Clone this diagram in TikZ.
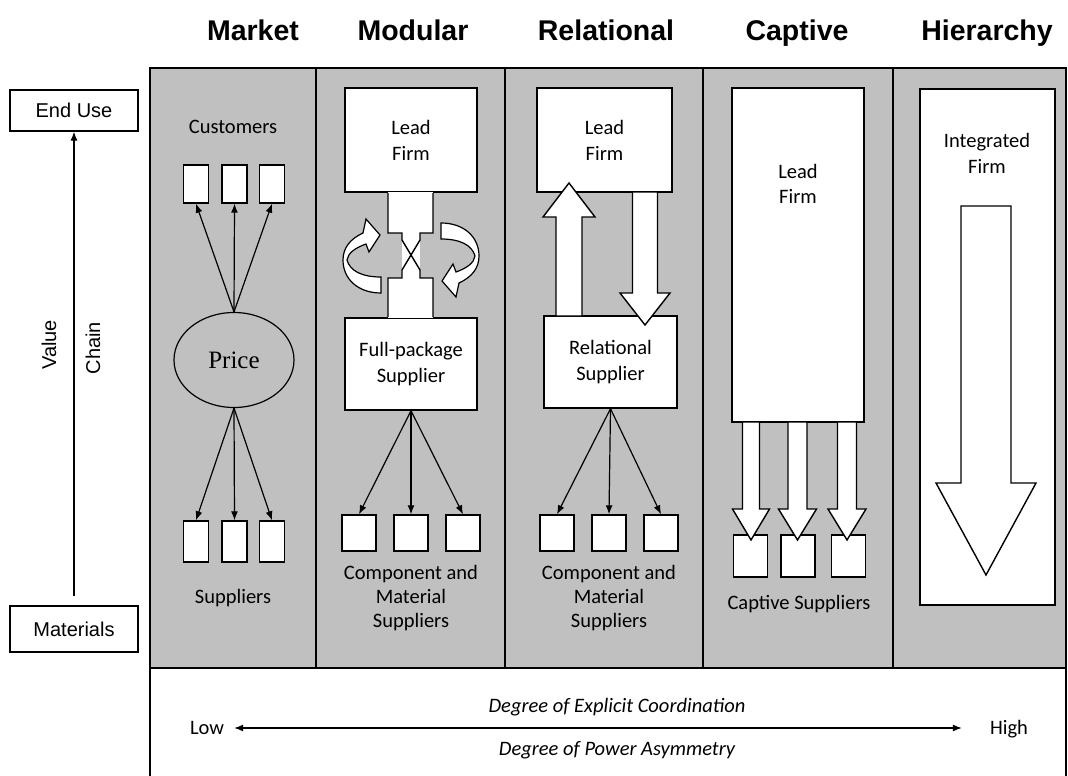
\documentclass[tikz,border=0pt]{standalone}
\usepackage{fontspec}
\setmainfont{Carlito}
\newfontfamily\arialf{Liberation Sans}
\newfontfamily\timesf{Liberation Serif}
\usetikzlibrary{arrows.meta,shapes.geometric}
\definecolor{panelgray}{RGB}{192,192,192}
\tikzset{
  box/.style={draw=black, fill=white, line width=1.4pt, inner sep=0pt, align=center,
              font=\fontsize{20.5}{26}\selectfont},
  lbl/.style={font=\fontsize{20.5}{24}\selectfont, align=center, inner sep=0pt},
  bl/.style={font=\fontsize{20.5}{24}\selectfont, inner sep=0pt, anchor=base},
  hdr/.style={font=\arialf\bfseries\fontsize{28.5}{30}\selectfont, inner sep=0pt, anchor=base},
  sidebox/.style={draw=black, fill=white, line width=1.2pt, inner sep=0pt,
              font=\arialf\fontsize{20}{24}\selectfont, minimum width=128pt},
  arr/.style={line width=1.2pt, -{Latex[length=9pt,width=7pt]}},
  blk/.style={draw=black, fill=white, line width=1.4pt, line join=miter},
  frame/.style={line width=2pt},
  divider/.style={line width=1.6pt},
}
\newcommand{\blkarrowv}[6]{%
  \draw[blk] ({#1-#5},#2) -- ({#1-#5},#3) -- ({#1-#6},#3) -- (#1,#4) -- ({#1+#6},#3) -- ({#1+#5},#3) -- ({#1+#5},#2) -- cycle;}
\begin{document}
\begin{tikzpicture}[x=1pt,y=-1pt]
\useasboundingbox (0,0) rectangle (1068,776);
% headers
\node[hdr] (hmarket) at (253,41) {Market};
\node[hdr] (hmodular) at (413,41) {Modular};
\node[hdr] (hrel) at (606,41) {Relational};
\node[hdr] (hcapt) at (797,41) {Captive};
\node[hdr] (hhier) at (987,41) {Hierarchy};
% panel
\fill[panelgray] (150,68) rectangle (1066,668);
\draw[frame] (150,776) -- (150,68) -- (1066,68) -- (1066,776);
\draw[frame] (150,668) -- (1066,668);
\foreach \xx in {316,505,703,893} \draw[divider] (\xx,68) -- (\xx,668);
% left axis
\node[sidebox, minimum height=41pt] (enduse) at (74,110.5) {End Use};
\node[sidebox, minimum height=46pt] (mater) at (74,629) {Materials};
\draw[arr, shorten <=9pt] (mater.north) -- (enduse.south);
\node[rotate=90, font=\arialf\fontsize{20}{24}\selectfont] (val) at (49,345) {Value};
\node[rotate=90, font=\arialf\fontsize{20}{24}\selectfont] (chain) at (93,348) {Chain};
% market
\node[bl] (cust) at (233,133.5) {Customers};
\foreach \n/\cx in {1/196,2/234.5,3/272}{
  \node[box, minimum width=25pt, minimum height=38pt] (mc\n) at (\cx,184) {};
  \node[box, minimum width=25pt, minimum height=41pt] (ms\n) at (\cx,541.5) {};
}
\node[ellipse, draw=black, line width=1.2pt, minimum width=120pt, minimum height=95pt, inner sep=0pt,
      font=\timesf\fontsize{25}{28}\selectfont] (price) at (234,360) {Price};
\foreach \n in {1,2,3}{
  \draw[arr] (price.north) -- (mc\n.south);
  \draw[arr] (price.south) -- (ms\n.north);
}
\node[bl] (supp) at (233,603) {Suppliers};
% modular
\node[box, minimum width=132pt, minimum height=104pt] (mlead) at (411,140) {Lead\\Firm};
\node[box, minimum width=132pt, minimum height=92pt] (mfull) at (411,364) {Full-package\\Supplier};
\fill[white] (388,192) rectangle (433,233);
\fill[white] (402,233) rectangle (420,278);
\fill[white] (388,278) rectangle (433,318);
\draw[line width=1.4pt] (388,193) -- (388,233) -- (402,233) -- (402,240) -- (420,270) -- (420,278) -- (433,278) -- (433,317);
\draw[line width=1.4pt] (433,193) -- (433,233) -- (420,233) -- (420,240) -- (402,270) -- (402,278) -- (388,278) -- (388,317);
\draw[blk, line width=1.2pt] (381,293) .. controls (358,293) and (343,279) .. (343,260)
   .. controls (343,248) and (350,239) .. (363,233) -- (366,219) -- (380,235) -- (369,252) -- (366,244)
   .. controls (355,248) and (348,253) .. (347,260) .. controls (350,271) and (362,277) .. (381,277) -- cycle;
\begin{scope}[rotate around={180:(411,258)}]
\draw[blk, line width=1.2pt] (381,293) .. controls (358,293) and (343,279) .. (343,260)
   .. controls (343,248) and (350,239) .. (363,233) -- (366,219) -- (380,235) -- (369,252) -- (366,244)
   .. controls (355,248) and (348,253) .. (347,260) .. controls (350,271) and (362,277) .. (381,277) -- cycle;
\end{scope}
\foreach \n/\cx in {1/359,2/411,3/463}{
  \node[box, minimum width=34pt, minimum height=36pt] (mm\n) at (\cx,533) {};
  \draw[arr] (mfull.south) -- (mm\n.north);
}
\node[lbl] (mcomp) at (411,598) {Component and\\Material\\Suppliers};
% relational
\node[box, minimum width=135pt, minimum height=104pt] (rlead) at (604.5,140) {Lead\\Firm};
\node[box, minimum width=133pt, minimum height=92pt] (rsupp) at (610.5,362) {Relational\\Supplier};
\blkarrowv{569}{316}{217}{183}{13}{26}
\blkarrowv{645}{192}{293}{325}{12.5}{25}
\foreach \n/\cx in {1/557,2/609,3/661}{
  \node[box, minimum width=34pt, minimum height=36pt] (rm\n) at (\cx,533) {};
  \draw[arr] (rsupp.south) -- (rm\n.north);
}
\node[lbl] (rcomp) at (609,598) {Component and\\Material\\Suppliers};
% captive
\node[box, minimum width=132pt, minimum height=334pt] (clead) at (798,255) {};
\node[lbl, font=\fontsize{20.5}{25}\selectfont] (cleadtxt) at (798,184) {Lead\\Firm};
\foreach \n/\cx in {1/750.5,2/798,3/848.5}{
  \node[box, minimum width=34pt, minimum height=42pt] (cb\n) at (\cx,556) {};
}
\blkarrowv{751}{422}{509}{540}{8.5}{18.5}
\blkarrowv{797.5}{422}{509}{540}{9.5}{19}
\blkarrowv{847}{422}{509}{540}{9.5}{19}
\node[bl] (csupp) at (799,609) {Captive Suppliers};
% hierarchy
\node[box, minimum width=135pt, minimum height=516pt] (hfirm) at (987.5,347) {};
\node[lbl, font=\fontsize{20.5}{26}\selectfont] (hfirmtxt) at (987,153) {Integrated\\Firm};
\blkarrowv{986}{206}{483}{575}{25}{50}
% bottom
\node[bl] (low) at (207,734) {Low};
\node[bl] (high) at (1009,734) {High};
\draw[line width=1.2pt, {Latex[length=9pt,width=7pt]}-{Latex[length=9pt,width=7pt]}] ([xshift=10pt]low.east |- 0,728) -- ([xshift=-28pt]high.west |- 0,728);
\node[bl, font=\itshape\fontsize{20.5}{24}\selectfont] (coord) at (617,712) {Degree of Explicit Coordination};
\node[bl, font=\itshape\fontsize{20.5}{24}\selectfont] (power) at (617,755) {Degree of Power Asymmetry};
\end{tikzpicture}
\end{document}
